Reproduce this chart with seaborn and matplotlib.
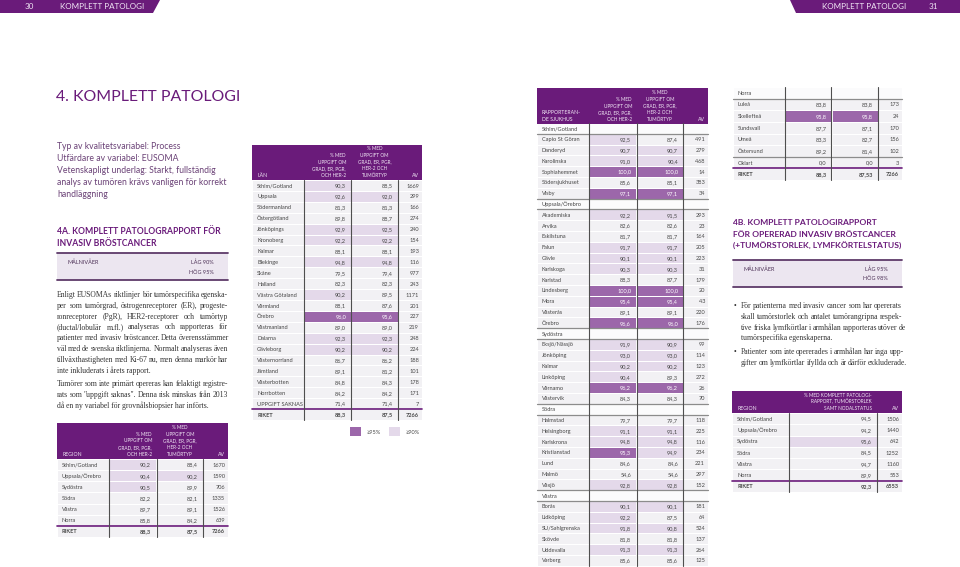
import numpy as np
import pandas as pd
import seaborn as sns
import matplotlib.pyplot as plt
from matplotlib.colors import ListedColormap
from matplotlib.patches import Polygon, Rectangle
from matplotlib.lines import Line2D

# ---------------- data ----------------
region_names = ['Sthlm/Gotland', 'Uppsala/Örebro', 'Sydöstra', 'Södra', 'Västra', 'Norra', 'RIKET']
region_grad = [90.2, 90.4, 90.5, 82.2, 89.7, 85.8, 88.3]
region_typ = [88.4, 90.2, 89.9, 82.1, 89.1, 84.2, 87.5]
region_av = [1670, 1590, 706, 1335, 1526, 639, 7266]

lan_names = ['Sthlm/Gotland', 'Uppsala', 'Södermanland', 'Östergötland', 'Jönköpings', 'Kronoberg',
             'Kalmar', 'Blekinge', 'Skåne', 'Halland', 'Västra Götaland', 'Värmland', 'Örebro',
             'Västmanland', 'Dalarna', 'Gävleborg', 'Västernorrland', 'Jämtland', 'Västerbotten',
             'Norrbotten', 'UPPGIFT SAKNAS', 'RIKET']
lan_grad = [90.3, 92.6, 81.3, 89.8, 92.9, 92.2, 88.1, 94.8, 79.5, 82.3, 90.2, 88.1, 96.0,
            89.0, 92.3, 90.2, 86.7, 89.1, 84.8, 84.2, 71.4, 88.3]
lan_typ = [88.5, 92.0, 81.3, 88.7, 92.5, 92.2, 88.1, 94.8, 79.4, 82.3, 89.5, 87.6, 95.6,
           89.0, 92.3, 90.2, 86.2, 81.2, 84.3, 84.2, 71.4, 87.5]
lan_av = [1669, 299, 166, 274, 240, 154, 193, 116, 977, 243, 1171, 201, 227,
          219, 248, 224, 188, 101, 178, 171, 7, 7266]

sjukhus = ['Capio St Göran', 'Danderyd', 'Karolinska', 'Sophiahemmet', 'Södersjukhuset', 'Visby',
           'Akademiska', 'Arvika', 'Eskilstuna', 'Falun', 'Gävle', 'Karlskoga', 'Karlstad',
           'Lindesberg', 'Mora', 'Västerås', 'Örebro',
           'Eksjö/Nässjö', 'Jönköping', 'Kalmar', 'Linköping', 'Värnamo', 'Västervik',
           'Halmstad', 'Helsingborg', 'Karlskrona', 'Kristianstad', 'Lund', 'Malmö', 'Växjö',
           'Borås', 'Lidköping', 'SU/Sahlgrenska', 'Skövde', 'Uddevalla', 'Varberg',
           'Luleå', 'Skellefteå', 'Sundsvall', 'Umeå', 'Östersund',
           'Oklart']
sjukhus_region = (['Sthlm/Gotland'] * 6 + ['Uppsala/Örebro'] * 11 + ['Sydöstra'] * 6
                  + ['Södra'] * 7 + ['Västra'] * 6 + ['Norra'] * 5 + [''])
sjukhus_grad = [92.5, 90.7, 91.0, 100.0, 85.6, 97.1,
                92.2, 82.6, 81.7, 91.7, 90.1, 90.3, 88.3, 100.0, 95.4, 89.1, 96.6,
                91.9, 93.0, 90.2, 90.4, 96.2, 84.3,
                79.7, 91.1, 94.8, 95.3, 84.6, 54.6, 92.8,
                90.1, 92.2, 91.8, 81.8, 91.3, 85.6,
                83.8, 95.8, 87.7, 83.3, 89.2,
                0.0]
sjukhus_typ = [87.4, 90.7, 90.4, 100.0, 85.1, 97.1,
               91.5, 82.6, 81.7, 91.7, 90.1, 90.3, 87.7, 100.0, 95.4, 89.1, 96.0,
               90.9, 93.0, 90.2, 89.3, 96.2, 84.3,
               79.7, 91.1, 94.8, 94.9, 84.6, 54.6, 92.8,
               90.1, 87.5, 90.8, 81.8, 91.3, 85.6,
               83.8, 95.8, 87.1, 82.7, 81.4,
               0.0]
sjukhus_av = [491, 279, 468, 14, 383, 34,
              293, 23, 164, 205, 223, 31, 179, 20, 43, 220, 176,
              99, 114, 123, 272, 26, 70,
              118, 225, 116, 234, 221, 297, 152,
              181, 64, 524, 137, 264, 125,
              173, 24, 170, 156, 102,
              3]
riket_sjukhus = ('RIKET', 88.3, 87.53, 7266)

komplett = [94.5, 94.2, 95.6, 84.5, 94.7, 89.9, 92.3]
komplett_av = [1506, 1440, 642, 1252, 1160, 553, 6553]

# ---------------- style ----------------
W, H = 960, 567
PURPLE = '#6a1b7a'
HEADTXT = '#f1e7f5'
TXT = '#474747'
INTRO = '#6b4277'
PLAIN, LIGHT, DARK, GROUP = '#f2f1f4', '#e4d9ea', '#9c67aa', '#fbfbfc'
cell_cmap = ListedColormap([PLAIN, LIGHT, DARK, GROUP])
FS = 4.1
HFS = 3.4
BODY = 5.5
SERIF = ['Liberation Serif', 'DejaVu Serif']

sns.set_theme(style='white')
plt.rcParams['font.family'] = ['Lato', 'DejaVu Sans']

fig = plt.figure(figsize=(9.6, 5.67), dpi=100)


def base_off(size):
    # distance from visual centre to baseline, in pixels
    return 0.36 * size * 100 / 72


def txt(x, y, s, size, color, ha='left', weight='normal', family=None):
    kw = {}
    if family:
        kw['family'] = family
    return fig.text(x / W, 1 - (y + base_off(size)) / H, s, ha=ha, va='baseline',
                    fontsize=size, color=color, weight=weight, **kw)


def box(x, y, w, h, color):
    fig.add_artist(Rectangle((x / W, 1 - (y + h) / H), w / W, h / H, color=color,
                             transform=fig.transFigure, lw=0))


def hline(x0, x1, y, color, lw):
    fig.add_artist(Line2D([x0 / W, x1 / W], [1 - y / H, 1 - y / H], color=color, lw=lw))


def vline(x, y0, y1, color, lw):
    fig.add_artist(Line2D([x / W, x / W], [1 - y0 / H, 1 - y1 / H], color=color, lw=lw))


def justified(x0, x1, y, line, last=False, **kw):
    words = line.split(' ')
    if last or len(words) == 1:
        txt(x0, y, line, **kw)
        return
    arts = [txt(0, y, w, **kw) for w in words]
    r = fig.canvas.get_renderer()
    widths = [a.get_window_extent(r).width for a in arts]
    gap = max((x1 - x0 - sum(widths)) / (len(words) - 1), 1.3)
    x = x0
    for a, w in zip(arts, widths):
        a.set_x(x / W)
        x += w + gap


def fmt(v):
    return str(v).replace('.', ',')


def shade(v, lo, hi):
    return 2 if v >= hi else (1 if v >= lo else 0)


def cell(ax, s, xy, dx, ha, color, weight):
    ax.annotate(s, xy, xytext=(dx, -base_off(FS)), textcoords='offset pixels',
                ha=ha, va='baseline', fontsize=FS, color=color, weight=weight)


def table(edges, y0, y1, names, cols, av, kinds, lo=90, hi=95):
    n = len(names)
    blank = np.array([[3 if k == 'group' else 0] for k in kinds])
    vals = np.array([[3 if kinds[i] == 'group' else shade(c[i], lo, hi) for c in cols]
                     for i in range(n)])
    blocks = [(edges[0], edges[1], blank), (edges[1], edges[-2], vals), (edges[-2], edges[-1], blank)]
    axs = []
    for xa, xb, mat in blocks:
        ax = fig.add_axes([xa / W, 1 - y1 / H, (xb - xa) / W, (y1 - y0) / H])
        sns.heatmap(mat, ax=ax, cmap=cell_cmap, vmin=-0.5, vmax=3.5, cbar=False,
                    linewidths=0.7, linecolor='white', xticklabels=False, yticklabels=False)
        ax.set_axis_off()
        axs.append(ax)
    for i, name in enumerate(names):
        w = 'bold' if kinds[i] == 'total' else 'normal'
        cell(axs[0], name, (0, i + 0.5), 5, 'left', TXT, w)
        if kinds[i] == 'group':
            continue
        for j, c in enumerate(cols):
            col = 'white' if vals[i, j] == 2 else TXT
            cell(axs[1], fmt(c[i]), (j + 1, i + 0.5), -5, 'right', col, w)
        cell(axs[2], str(av[i]), (1, i + 0.5), -3, 'right', TXT, w)
    rh = (y1 - y0) / n
    for i, k in enumerate(kinds):
        if k == 'total':
            hline(edges[0], edges[-1], y0 + i * rh, PURPLE, 1.2)
        if k == 'group':
            if i > 0:
                hline(edges[0], edges[-1], y0 + i * rh, '#8c8c8c', 0.9)
            hline(edges[0], edges[-1], y0 + (i + 1) * rh, '#8c8c8c', 0.9)
        if k == 'sep':
            hline(edges[0], edges[-1], y0 + i * rh, '#8c8c8c', 0.9)
    for x in edges[1:-1]:
        vline(x, y0, y1, '#4f4f4f', 0.8)


def header(edges, y0, y1, label_lines, col_heads, ls=6.6):
    box(edges[0], y0, edges[-1] - edges[0], y1 - y0, PURPLE)
    yb = y1 - 5
    for k, line in enumerate(reversed(label_lines)):
        txt(edges[0] + 5, yb - k * ls, line, HFS + 0.3, HEADTXT)
    for lines, x, ha in col_heads:
        for k, line in enumerate(reversed(lines)):
            txt(x, yb - k * ls, line, HFS, HEADTXT, ha=ha)
    txt(edges[-1] - 3, yb, 'AV', HFS + 0.3, HEADTXT, ha='right')


HEAD1 = ['% MED', 'UPPGIFT OM', 'GRAD, ER, PGR,', 'OCH HER-2']
HEAD2 = ['% MED', 'UPPGIFT OM', 'GRAD, ER, PGR,', 'HER-2 OCH', 'TUMÖRTYP']


def std_header(edges, y0, y1, label_lines):
    header(edges, y0, y1, label_lines,
           [(HEAD1, edges[2] - 5, 'right'), (HEAD2, (edges[2] + edges[3]) / 2, 'center')])


# ---------------- page bands ----------------
fig.add_artist(Polygon([(0, 1), (160 / W, 1), (153 / W, 1 - 13 / H), (0, 1 - 13 / H)],
                       closed=True, color=PURPLE, transform=fig.transFigure, lw=0))
fig.add_artist(Polygon([(790 / W, 1), (1, 1), (1, 1 - 13 / H), (796 / W, 1 - 13 / H)],
                       closed=True, color=PURPLE, transform=fig.transFigure, lw=0))
txt(29, 6.5, '30', 5.8, HEADTXT, ha='center')
txt(60, 6.5, 'KOMPLETT PATOLOGI', 5.8, HEADTXT)
txt(822, 6.5, 'KOMPLETT PATOLOGI', 5.8, HEADTXT)
txt(933, 6.5, '31', 5.8, HEADTXT, ha='center')

# ---------------- left column text ----------------
txt(56, 95, '4. KOMPLETT PATOLOGI', 11.4, PURPLE)
intro = ['Typ av kvalitetsvariabel: Process', 'Utfärdare av variabel: EUSOMA',
         'Vetenskapligt underlag: Starkt, fullständig', 'analys av tumören krävs vanligen för korrekt',
         'handläggning']
for k, line in enumerate(intro):
    txt(57, 146 + k * 11.9, line, 6.2, INTRO)

txt(57, 231, '4A. KOMPLETT PATOLOGRAPPORT FÖR', 6.2, PURPLE, weight='bold')
txt(57, 242.5, 'INVASIV BRÖSTCANCER', 6.2, PURPLE, weight='bold')


def malniva(x0, x1, y0, y1, low, high):
    box(x0, y0, x1 - x0, y1 - y0, '#ece6f0')
    hline(x0, x1, y0, '#5e3a69', 1.3)
    hline(x0, x1, y1, '#5e3a69', 1.3)
    txt(x0 + 11, y0 + 8.5, 'MÅLNIVÅER', 4.0, '#4b2f55')
    txt(x1 - 14, y0 + 8.5, low, 4.0, '#4b2f55', ha='right')
    txt(x1 - 14, y0 + 18.5, high, 4.0, '#4b2f55', ha='right')


malniva(57, 228, 253, 280, 'LÅG 90%', 'HÖG 95%')

para1 = ['Enligt EUSOMAs riktlinjer bör tumörspecifika egenska-',
         'per som tumörgrad, östrogenreceptorer (ER), progeste-',
         'ronreceptorer (PgR), HER2-receptorer och tumörtyp',
         '(ductal/lobulär m.fl.) analyseras och rapporteras för',
         'patienter med invasiv bröstcancer. Detta överensstämmer',
         'väl med de svenska riktlinjerna. Normalt analyseras även',
         'tillväxthastigheten med Ki-67 nu, men denna markör har',
         'inte inkluderats i årets rapport.']
para2 = ['Tumörer som inte primärt opereras kan felaktigt registre-',
         'rats som "uppgift saknas". Denna risk minskas från 2013',
         'då en ny variabel för grovnålsbiopsier har införts.']
for k, line in enumerate(para1):
    justified(57, 228, 294 + k * 10.9, line, last=k == len(para1) - 1,
              size=BODY, color='#333333', family=SERIF)
for k, line in enumerate(para2):
    justified(57, 228, 383 + k * 10.9, line, last=k == len(para2) - 1,
              size=BODY, color='#333333', family=SERIF)

# ---------------- 4A region table ----------------
e_reg = [57, 109, 157, 203, 228]
std_header(e_reg, 423, 459, ['REGION'])
table(e_reg, 459, 537, region_names, [region_grad, region_typ], region_av,
      ['row'] * 6 + ['total'])

# ---------------- 4A län table ----------------
e_lan = [252, 304, 351, 398, 422]
std_header(e_lan, 145, 180, ['LÄN'])
table(e_lan, 180, 420, lan_names, [lan_grad, lan_typ], lan_av,
      ['row'] * 21 + ['total'])
box(350, 427, 11, 9, DARK)
txt(366, 431.5, '≥95%', 4.1, TXT)
box(389, 427, 11, 9, LIGHT)
txt(405, 431.5, '≥90%', 4.1, TXT)

# ---------------- 4A hospital table ----------------
df = pd.DataFrame({'namn': sjukhus, 'region': sjukhus_region, 'grad': sjukhus_grad,
                   'typ': sjukhus_typ, 'av': sjukhus_av})
rows = []
prev = None
for r in df.itertuples():
    if r.region != prev:
        prev = r.region
        if r.region:
            rows.append((r.region, np.nan, np.nan, '', 'group'))
        else:
            rows.append((r.namn, r.grad, r.typ, r.av, 'sep'))
            continue
    rows.append((r.namn, r.grad, r.typ, r.av, 'row'))
rows.append(riket_sjukhus + ('total',))
split = [i for i, r in enumerate(rows) if r[0] == 'Norra' and r[4] == 'group'][0]
part1, part2 = rows[:split], rows[split:]

e_sj = [537, 589, 637, 683, 708]
std_header(e_sj, 88, 124, ['RAPPORTERAN-', 'DE SJUKHUS'])
table(e_sj, 123, 123 + 10.8 * len(part1), [r[0] for r in part1],
      [[r[1] for r in part1], [r[2] for r in part1]], [r[3] for r in part1],
      [r[4] for r in part1])

e_sj2 = [733, 785, 831, 878, 902]
table(e_sj2, 87, 180, [r[0] for r in part2],
      [[r[1] for r in part2], [r[2] for r in part2]], [r[3] for r in part2],
      [r[4] for r in part2])

# ---------------- 4B ----------------
txt(733, 222, '4B. KOMPLETT PATOLOGIRAPPORT', 6.1, PURPLE, weight='bold')
txt(733, 234, 'FÖR OPERERAD INVASIV BRÖSTCANCER', 6.1, PURPLE, weight='bold')
txt(733, 246, '(+TUMÖRSTORLEK, LYMFKÖRTELSTATUS)', 6.1, PURPLE, weight='bold')
malniva(733, 902, 260, 287, 'LÅG 95%', 'HÖG 98%')

bullets = [['För patienterna med invasiv cancer som har opererats',
            'skall tumörstorlek och antalet tumörangripna respek-',
            'tive friska lymfkörtlar i armhålan rapporteras utöver de',
            'tumörspecifika egenskaperna.'],
           ['Patienter som inte opererades i armhålan har inga upp-',
            'gifter om lymfkörtlar ifyllda och är därför exkluderade.']]
yb = 305
for lines in bullets:
    txt(734, yb, '•', BODY, '#333333', family=SERIF)
    for k, line in enumerate(lines):
        justified(741, 902, yb, line, last=(k == len(lines) - 1 and len(lines) > 2),
                  size=BODY, color='#333333', family=SERIF)
        yb += 10.9
    yb += 2.5

e_4b = [732, 789, 877, 902]
header(e_4b, 391, 413, ['REGION'],
       [(['% MED KOMPLETT PATOLOGI-', 'RAPPORT, TUMÖRSTORLEK', 'SAMT NODALSTATUS'], 872, 'right')],
       ls=6.3)
table(e_4b, 413, 492, region_names, [komplett], komplett_av,
      ['row'] * 6 + ['total'], lo=95, hi=98)

fig.savefig('out.png', dpi=100)
